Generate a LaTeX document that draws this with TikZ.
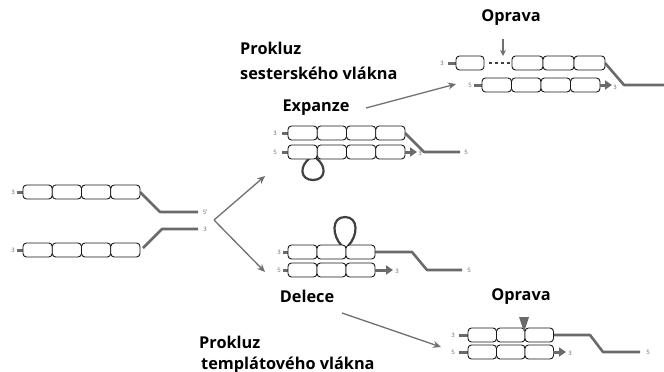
\documentclass[tikz,border=0pt]{standalone}
\usepackage{fontspec}
\setsansfont{Open Sans}
\usetikzlibrary{arrows.meta}
\definecolor{tailc}{HTML}{6A6A6A}
\definecolor{arrc}{HTML}{707070}
\tikzset{
  seg/.style={draw=black!90, line width=0.9pt, rounded corners=3.5pt, fill=white},
  tailline/.style={draw=tailc, line width=2.6pt, line join=round},
  stub/.style={draw=tailc, line width=3pt},
  flow/.style={draw=arrc, line width=1.3pt, -{Stealth[length=8pt,width=7pt]}},
  newend/.style={draw=tailc, line width=3pt, -{Triangle[length=7pt,width=9pt]}},
  lab/.style={font=\sffamily\bfseries\fontsize{16.3}{18}\selectfont, inner sep=0pt},
  endlab/.style={font=\sffamily\fontsize{6}{7}\selectfont, text=black!60, inner sep=0pt},
  loopline/.style={draw=black!75, line width=2.2pt}
}
\newcommand\segrow[4]{\foreach \i in {1,...,#3}{\draw[seg] ({#1+(\i-1)*#4},{#2-7}) rectangle ({#1+\i*#4},{#2+7});}}
\begin{document}
\begin{tikzpicture}[x=1pt,y=-1pt]
\useasboundingbox (0,0) rectangle (664,372);
% ---------- left: parent strands ----------
\draw[tailline] (140,192) -- (160,212) -- (198,212);
\draw[tailline] (198,229) -- (162,229) -- (143,248);
\draw[stub] (17,192) -- (24,192);
\draw[stub] (17,250) -- (24,250);
\segrow{23}{192}{4}{29.25}
\segrow{23}{250}{4}{29.25}
\node[endlab] (l3a) at (13,192) {3};
\node[endlab] (l3b) at (13,250) {3};
\node[endlab] (l5) at (205,212) {5'};
\node[endlab] (l3c) at (205,229) {3};
% fork arrows
\coordinate (fork) at (214,220);
\coordinate (up) at (265,176);
\coordinate (dn) at (265,272);
\draw[flow] (fork) -- (up);
\draw[flow] (fork) -- (dn);
% ---------- Expanze ----------
\node[lab, anchor=west] (pk1) at (240,48) {Prokluz};
\node[lab, anchor=west] (ss1) at (240,73) {sesterského vlákna};
\node[lab] (exp) at (316,108) {Expanze};
\draw[tailline] (405,133) -- (424,152) -- (460,152);
\draw[stub] (282,133) -- (289,133);
\draw[stub] (282,152) -- (289,152);
\draw[loopline] (310,158) .. controls (299,166) and (300,180) .. (313,180) .. controls (326,180) and (327,166) .. (316,158);
\segrow{288}{133}{4}{29.25}
\segrow{288}{152}{4}{29.25}
\draw[newend] (405,152) -- (417,152);
\node[endlab] (e3a) at (275,133) {3};
\node[endlab] (e5a) at (275,152) {5};
\node[endlab] (e3b) at (420,153) {3};
\node[endlab] (e5b) at (466,152) {5};
% arrow to repaired
\coordinate (expA) at (366,108);
\coordinate (expB) at (456,84);
\draw[flow] (expA) -- (expB);
% ---------- top right repaired ----------
\node[lab] (op1) at (511,18) {Oprava};
\coordinate (oa) at (503,39);
\coordinate (ob) at (503,56);
\draw[draw=arrc, line width=1.3pt, -{Stealth[length=6pt,width=6pt]}] (oa) -- (ob);
\draw[tailline] (605,63) -- (624,85) -- (664,85);
\draw[stub] (448,63) -- (457,63);
\draw[stub] (474,85) -- (483,85);
\segrow{456}{63}{1}{28}
\draw[draw=black!75, line width=2.6pt, dash pattern=on 3pt off 3pt] (489,63) -- (510,63);
\segrow{512}{63}{3}{31}
\segrow{482}{85}{4}{29.5}
\draw[newend] (600,85) -- (612,85);
\node[endlab] (r3a) at (442,63) {3};
\node[endlab] (r5a) at (470,85) {5};
\node[endlab] (r3b) at (615,87) {3};
% ---------- Delece ----------
\draw[tailline] (375,252) -- (412,252) -- (427,270) -- (462,270);
\draw[stub] (283,252) -- (289,252);
\draw[stub] (283,270) -- (289,270);
\draw[loopline] (342,246) .. controls (332,236) and (331,217) .. (345,217) .. controls (359,217) and (358,236) .. (348,246);
\segrow{288}{252}{3}{29}
\segrow{288}{270}{3}{29}
\draw[newend] (375,270) -- (393,270);
\node[endlab] (d3a) at (279,252) {3};
\node[endlab] (d5a) at (279,270) {5};
\node[endlab] (d3b) at (397,271) {3};
\node[endlab] (d5b) at (469,270) {5};
\node[lab] (del) at (307,296) {Delece};
\node[lab, anchor=west] (pk2) at (199,342) {Prokluz};
\node[lab, anchor=west] (tp2) at (201,365) {templátového vlákna};
\coordinate (delA) at (342,313);
\coordinate (delB) at (441,347);
\draw[flow] (delA) -- (delB);
% ---------- bottom right repaired ----------
\node[lab] (op2) at (521,297) {Oprava};
\draw[tailline] (553,335) -- (590,335) -- (603,352) -- (640,352);
\draw[stub] (459,335) -- (469,335);
\draw[stub] (459,352) -- (469,352);
\segrow{468}{335}{3}{28.5}
\segrow{468}{352}{3}{28.5}
\draw[newend] (553,352) -- (566,352);
\draw[fill=tailc, draw=none] (519,317) -- (529,317) -- (524,332) -- cycle;
\node[endlab] (b3a) at (453,335) {3};
\node[endlab] (b5a) at (453,352) {5};
\node[endlab] (b3b) at (570,353) {3};
\node[endlab] (b5b) at (648,352) {5};
\end{tikzpicture}
\end{document}
